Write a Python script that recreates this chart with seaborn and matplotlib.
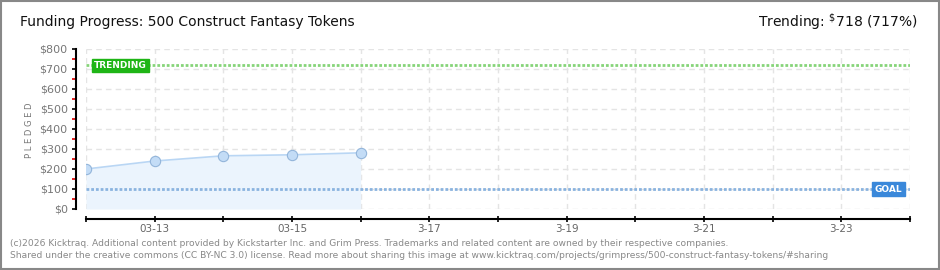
import matplotlib
matplotlib.use("Agg")
import matplotlib.pyplot as plt
import seaborn as sns
import pandas as pd
import numpy as np
from matplotlib.ticker import FixedLocator, FuncFormatter
from matplotlib.patches import Rectangle

# ---- data ----
days = [12, 13, 14, 15, 16]
dates = ["03-12", "03-13", "03-14", "03-15", "03-16"]
pledged = [200, 240, 266, 271, 281]
goal = 100
trending = 718
trending_pct = 717
tick_days = [12, 13, 14, 15, 16, 17, 18, 19, 20, 21, 22, 23, 24]
tick_labels = ["", "03-13", "", "03-15", "", "3-17", "", "3-19", "", "3-21", "", "3-23", ""]
y_ticks = [0, 100, 200, 300, 400, 500, 600, 700, 800]

title = "Funding Progress: 500 Construct Fantasy Tokens"
footer1 = "(c)2026 Kicktraq. Additional content provided by Kickstarter Inc. and Grim Press. Trademarks and related content are owned by their respective companies."
footer2 = "Shared under the creative commons (CC BY-NC 3.0) license. Read more about sharing this image at www.kicktraq.com/projects/grimpress/500-construct-fantasy-tokens/#sharing"

sns.set_theme(style="white")
plt.rcParams["font.family"] = ["DejaVu Sans"]

df = pd.DataFrame({"day": days, "pledged": pledged})

fig = plt.figure(figsize=(9.4, 2.7), dpi=100)
ax = fig.add_axes([86 / 940, 1 - 209 / 270, (910 - 86) / 940, (209 - 49) / 270])

# grid
for d in tick_days:
    ax.axvline(d, color="#e4e4e4", lw=1, ls=(0, (4, 3)), zorder=0)
for v in y_ticks:
    ax.axhline(v, color="#e4e4e4", lw=1, ls=(0, (4, 3)), zorder=0)

# area + line + markers
ax.fill_between(df["day"], df["pledged"], 0, color="#ebf4fd", zorder=1, lw=0)
sns.lineplot(data=df, x="day", y="pledged", ax=ax, color="#b9d6f4", lw=1.2, zorder=2)
sns.scatterplot(data=df, x="day", y="pledged", ax=ax, color="#c3dcf6",
                edgecolor="#93b5da", linewidth=0.8, s=55, zorder=3)

# goal & trending lines
ax.axhline(goal, color="#8ab3df", lw=2.0, ls=(0, (1, 0.7)), zorder=2)
ax.axhline(trending, color="#86d479", lw=2.0, ls=(0, (1, 0.7)), zorder=2)

ax.text(12.5, trending, "TRENDING", color="white", fontsize=6.5, fontweight="bold",
        ha="center", va="center", zorder=5,
        bbox=dict(boxstyle="square,pad=0.25", fc="#1fb516", ec="#1fb516"))
ax.text(23.68, goal, "GOAL", color="white", fontsize=6.5, fontweight="bold",
        ha="center", va="center", zorder=5,
        bbox=dict(boxstyle="square,pad=0.3", fc="#3a88da", ec="#3a88da"))

ax.set_xlim(12, 24)
ax.set_ylim(0, 800)
ax.set_xlabel("")
ax.set_ylabel("")

ax.xaxis.set_major_locator(FixedLocator(tick_days))
ax.set_xticklabels(tick_labels)
ax.yaxis.set_major_locator(FixedLocator(y_ticks))
ax.yaxis.set_major_formatter(FuncFormatter(lambda v, p: f"${v:.0f}"))
ax.yaxis.set_minor_locator(FixedLocator([50 + 100 * i for i in range(8)]))

for s in ["top", "right"]:
    ax.spines[s].set_visible(False)
ax.spines["left"].set_position(("outward", 7.2))
ax.spines["bottom"].set_position(("outward", 7.2))
ax.spines["left"].set_color("black")
ax.spines["bottom"].set_color("black")
ax.spines["left"].set_linewidth(1.5)
ax.spines["bottom"].set_linewidth(1.5)

ax.tick_params(axis="y", which="major", direction="out", length=3, width=1.2,
               color="black", labelsize=8, labelcolor="#777777", pad=3, left=True)
ax.tick_params(axis="y", which="minor", direction="out", length=3, width=1.2,
               color="#e00000", left=True)
ax.tick_params(axis="x", which="major", direction="inout", length=5, width=1.2,
               color="black", labelsize=7.5, labelcolor="#666666", pad=1, bottom=True)

fig.text(30 / 940, 1 - 130 / 270, "P L E D G E D", rotation=90, ha="center", va="center",
         fontsize=6, color="#777777")

fig.text(20 / 940, 1 - 22 / 270, title, fontsize=10, color="#111111", ha="left", va="center")
fig.text(918 / 940, 1 - 22 / 270, r"Trending: $^{\$}$" + f"{trending} ({trending_pct}%)",
         fontsize=10, color="#111111", ha="right", va="center")

fig.text(10 / 940, 1 - 243 / 270, footer1, fontsize=6.6, color="#888888", ha="left", va="center")
fig.text(10 / 940, 1 - 256 / 270, footer2, fontsize=6.6, color="#888888", ha="left", va="center")

fig.patches.append(Rectangle((0.001, 0.002), 0.998, 0.996, transform=fig.transFigure,
                             fill=False, ec="#888888", lw=1.5))

fig.savefig("out.png", dpi=100)
